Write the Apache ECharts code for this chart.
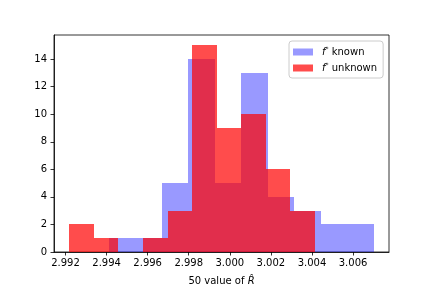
<!DOCTYPE html>
<html>
<head>
<meta charset="utf-8">
<script src="https://cdn.jsdelivr.net/npm/echarts@6/dist/echarts.min.js"></script>
<style>html,body{margin:0;padding:0;background:#fff}#c{width:432px;height:288px}</style>
</head>
<body>
<div id="c"></div>
<script>
// Bin edges and counts
var knownEdges = [2.99411, 2.99540, 2.99669, 2.99798, 2.99927, 3.00056, 3.00185, 3.00314, 3.00443, 3.00572, 3.00701];
var knownCounts = [1, 1, 5, 14, 5, 13, 4, 3, 2, 2];
var unknownEdges = [2.99218, 2.99338, 2.99457, 2.99577, 2.99697, 2.99816, 2.99936, 3.00056, 3.00175, 3.00295, 3.00415];
var unknownCounts = [2, 1, 0, 1, 3, 15, 9, 10, 6, 3];
var xTicks = [2.992, 2.994, 2.996, 2.998, 3.000, 3.002, 3.004, 3.006];
var yTicks = [0, 2, 4, 6, 8, 10, 12, 14];
var seriesNames = ['known', 'unknown'];

function toBins(edges, counts) {
  var out = [];
  for (var i = 0; i < counts.length; i++) out.push([edges[i], edges[i + 1], counts[i]]);
  return out;
}
function renderBar(params, api) {
  var p0 = api.coord([api.value(0), api.value(2)]);
  var p1 = api.coord([api.value(1), 0]);
  var x0 = Math.round(p0[0]), x1 = Math.round(p1[0]);
  var y0 = Math.round(p0[1]), y1 = Math.round(p1[1]);
  return {
    type: 'rect',
    shape: { x: x0, y: y0, width: x1 - x0, height: y1 - y0 },
    style: api.style()
  };
}
var font = 'DejaVu Sans';
var chart = echarts.init(document.getElementById('c'), null, { renderer: 'canvas' });
chart.setOption({
  animation: false,
  backgroundColor: '#fff',
  textStyle: { fontFamily: font },
  grid: { left: 54, right: 43, top: 35, bottom: 36, outerBoundsMode: 'none', containLabel: false,
    show: true, borderColor: '#000', borderWidth: 0.8, backgroundColor: 'transparent' },
  xAxis: {
    type: 'value', min: 2.99144, max: 3.00775,
    splitLine: { show: false },
    axisLine: { show: true, onZero: false, lineStyle: { color: '#000', width: 0.8 } },
    axisTick: { show: true, inside: false, length: 3.5, lineStyle: { color: '#000', width: 0.8 }, customValues: xTicks },
    axisLabel: { color: '#000', fontSize: 10, fontFamily: font, margin: 6, customValues: xTicks,
      formatter: function (v) { return v.toFixed(3); } },
    name: '{t|50 value of }{r|R̂}',
    nameLocation: 'middle', nameGap: 24,
    nameTextStyle: { rich: { t: { fontSize: 10, fontFamily: font, color: '#000' }, r: { fontSize: 10, fontFamily: font, fontStyle: 'italic', color: '#000' } } }
  },
  yAxis: {
    type: 'value', min: 0, max: 15.75,
    splitLine: { show: false },
    axisLine: { show: true, lineStyle: { color: '#000', width: 0.8 } },
    axisTick: { show: true, inside: false, length: 3.5, lineStyle: { color: '#000', width: 0.8 }, customValues: yTicks },
    axisLabel: { color: '#000', fontSize: 10, fontFamily: font, margin: 7, customValues: yTicks }
  },
  legend: {
    orient: 'vertical', left: 289, top: 41,
    itemWidth: 20, itemHeight: 7, itemGap: 5,
    padding: [5, 6, 5, 4],
    backgroundColor: 'rgba(255,255,255,0.8)', borderColor: '#cccccc', borderWidth: 1, borderRadius: 3,
    icon: 'rect',
    data: seriesNames,
    formatter: function (n) { return '{i|f}{s|*}{t| ' + n + '}'; },
    textStyle: { color: '#000', fontSize: 10, fontFamily: font,
      rich: { i: { fontStyle: 'italic', fontSize: 10, fontFamily: font, color: '#000', lineHeight: 12, padding: [0, 0, 0, 4] },
              s: { fontSize: 6, fontFamily: font, color: '#000', verticalAlign: 'top', lineHeight: 12, padding: [0, 0, 5, 0] },
              t: { fontSize: 10, fontFamily: font, color: '#000', lineHeight: 12 } } }
  },
  series: [
    { name: seriesNames[0], type: 'custom', renderItem: renderBar, encode: { x: [0, 1], y: 2 },
      itemStyle: { color: 'rgba(0,0,255,0.4)' }, data: toBins(knownEdges, knownCounts) },
    { name: seriesNames[1], type: 'custom', renderItem: renderBar, encode: { x: [0, 1], y: 2 },
      itemStyle: { color: 'rgba(255,0,0,0.7)' }, data: toBins(unknownEdges, unknownCounts) }
  ]
});
</script>
</body>
</html>
